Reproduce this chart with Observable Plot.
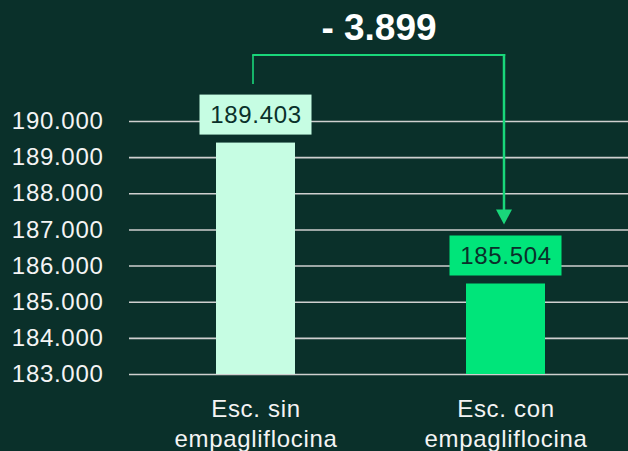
<!DOCTYPE html>
<html>
<head>
<meta charset="utf-8">
<script src="https://cdn.jsdelivr.net/npm/d3@7"></script>
<script src="https://cdn.jsdelivr.net/npm/@observablehq/plot@0.6"></script>
<style>
  html, body { margin: 0; padding: 0; background: #0a302a; }
  #chart svg { display: block; }
</style>
</head>
<body>
<div id="chart"></div>
<script>
// ---- data ----
const categories = ["Esc. sin\nempagliflocina", "Esc. con\nempagliflocina"];
const values = [189403, 185504];
const barColors = ["#c6fde3", "#00e57a"];
const yTicks = [183000, 184000, 185000, 186000, 187000, 188000, 189000, 190000];

const data = categories.map((c, i) => ({cat: c, value: values[i], color: barColors[i]}));
const fmt = d => d3.format(",")(d).replace(/,/g, ".");
const diff = values[1] - values[0];
const diffLabel = (diff < 0 ? "- " : "+ ") + fmt(Math.abs(diff));

const BG = "#0a302a";
const FONT = "'Liberation Sans', Arial, sans-serif";

const plot = Plot.plot({
  width: 628,
  height: 451,
  marginLeft: 129,
  marginRight: 0,
  marginTop: 121,
  marginBottom: 77,
  style: {background: BG, color: "#ffffff", fontFamily: FONT, letterSpacing: "0.7px"},
  x: {domain: categories, paddingInner: 0.6853, paddingOuter: 0.3367, align: 0.509},
  y: {domain: [yTicks[0], yTicks[yTicks.length - 1]]},
  color: {type: "identity"},
  marks: [
    Plot.ruleY(yTicks, {stroke: "#cfcfcf", strokeWidth: 1.6}),
    Plot.axisY(yTicks, {tickSize: 0, tickPadding: 26, fontSize: 24, tickFormat: fmt, label: null, fill: "#f4f4f4"}),
    Plot.axisX({tickSize: 0, tickPadding: 21, fontSize: 24, lineHeight: 1.25, label: null, fill: "#f4f4f4"}),
    Plot.barY(data, {x: "cat", y1: yTicks[0], y2: "value", fill: "color"}),
    Plot.barY(data, {x: "cat", y1: "value", y2: "value", fill: "color",
      insetTop: -48, insetBottom: 8, insetLeft: -16.5, insetRight: -16.5}),
    Plot.text(data, {x: "cat", y: "value", dy: -28, text: d => fmt(d.value), fill: BG, fontSize: 24})
  ]
});

document.getElementById("chart").appendChild(plot);

// ---- annotation (bracket + difference) using the plot's scales ----
const sx = plot.scale("x"), sy = plot.scale("y");
const xs = sx.apply ? (v => sx.apply(v)) : d3.scaleBand(sx.domain, sx.range);
const ys = sy.apply ? (v => sy.apply(v)) : d3.scaleLinear(sy.domain, sy.range);
const bw = sx.bandwidth;
const cx0 = xs(categories[0]) + bw / 2 - 2.5;
const cx1 = xs(categories[1]) + bw / 2 - 1.5;
const boxTop0 = ys(values[0]) - 48;
const boxTop1 = ys(values[1]) - 48;
const bracketY = 55;
const tip = boxTop1 - 11;
const lineColor = "#19d67a";

const g = d3.select(plot).append("g");
g.append("line").attr("x1", cx0).attr("x2", cx0).attr("y1", bracketY).attr("y2", boxTop0 - 10.5)
  .attr("stroke", lineColor).attr("stroke-width", 1.6);
g.append("line").attr("x1", cx0 - 0.8).attr("x2", cx1 + 1.2).attr("y1", bracketY).attr("y2", bracketY)
  .attr("stroke", lineColor).attr("stroke-width", 2);
g.append("line").attr("x1", cx1).attr("x2", cx1).attr("y1", bracketY - 1).attr("y2", tip - 14)
  .attr("stroke", lineColor).attr("stroke-width", 2.5);
g.append("path")
  .attr("d", `M${cx1 - 8},${tip - 15}L${cx1 + 8},${tip - 15}L${cx1},${tip}Z`)
  .attr("fill", lineColor);
g.append("text")
  .attr("x", (cx0 + cx1) / 2 + 0.5)
  .attr("y", 40)
  .attr("text-anchor", "middle")
  .attr("fill", "#ffffff")
  .attr("font-size", 37)
  .attr("font-weight", "bold")
  .attr("letter-spacing", "0px")
  .attr("font-family", FONT)
  .text(diffLabel);
</script>
</body>
</html>
